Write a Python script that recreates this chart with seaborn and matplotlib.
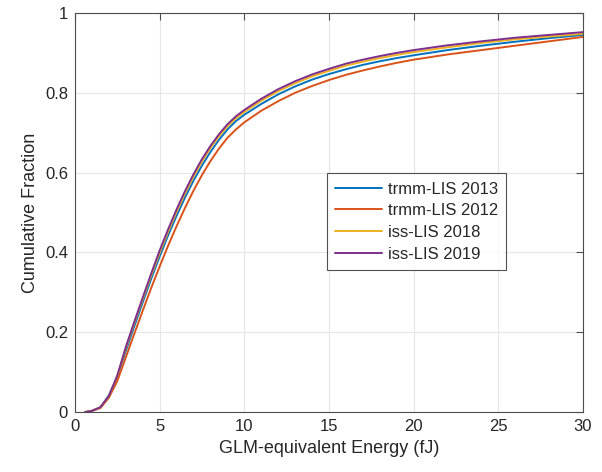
import pandas as pd
import numpy as np
import matplotlib
matplotlib.use("Agg")
import matplotlib.pyplot as plt
import seaborn as sns

# energy grid (fJ) and cumulative fractions
energy = [0.6, 1, 1.5, 2, 2.5, 3, 3.5, 4, 4.5, 5, 5.5, 6, 6.5, 7, 7.5, 8, 8.5, 9, 9.5, 10,
          11, 12, 13, 14, 15, 16, 17, 18, 19, 20, 22, 24, 26, 28, 30]
trmm_2013 = [0, 0.003, 0.012, 0.042, 0.088, 0.153, 0.215, 0.275, 0.334, 0.39, 0.443, 0.492, 0.538,
             0.58, 0.618, 0.652, 0.682, 0.708, 0.729, 0.745, 0.772, 0.796, 0.816, 0.833, 0.847,
             0.859, 0.87, 0.879, 0.887, 0.894, 0.907, 0.918, 0.928, 0.937, 0.945]
trmm_2012 = [0, 0.003, 0.010, 0.036, 0.078, 0.137, 0.196, 0.254, 0.311, 0.365, 0.417, 0.466, 0.512,
             0.555, 0.594, 0.629, 0.66, 0.687, 0.708, 0.726, 0.755, 0.779, 0.8, 0.817, 0.832,
             0.845, 0.856, 0.866, 0.875, 0.883, 0.896, 0.907, 0.918, 0.929, 0.94]
iss_2018 = [0, 0.003, 0.012, 0.04, 0.091, 0.16, 0.223, 0.283, 0.342, 0.399, 0.452, 0.502, 0.548,
            0.59, 0.628, 0.662, 0.691, 0.716, 0.736, 0.752, 0.78, 0.804, 0.824, 0.841, 0.855,
            0.868, 0.878, 0.887, 0.895, 0.902, 0.914, 0.925, 0.934, 0.941, 0.948]
iss_2019 = [0, 0.003, 0.012, 0.04, 0.092, 0.163, 0.226, 0.287, 0.347, 0.405, 0.458, 0.508, 0.554,
            0.596, 0.634, 0.667, 0.696, 0.721, 0.741, 0.757, 0.785, 0.809, 0.829, 0.846, 0.86,
            0.873, 0.883, 0.892, 0.9, 0.907, 0.919, 0.929, 0.938, 0.945, 0.952]

labels = ["trmm-LIS 2013", "trmm-LIS 2012", "iss-LIS 2018", "iss-LIS 2019"]
colors = ["#0072BD", "#D95319", "#EDB120", "#7E2F8E"]

df = pd.concat([
    pd.DataFrame({"energy": energy, "frac": vals, "series": lab})
    for lab, vals in zip(labels, [trmm_2013, trmm_2012, iss_2018, iss_2019])
])

sns.set_style("whitegrid")
plt.rcParams["font.family"] = ["Liberation Sans", "DejaVu Sans"]

fig = plt.figure(figsize=(6.02, 4.72), dpi=100)
ax = fig.add_axes([0.1246, 0.127, 0.8438, 0.8455])

sns.lineplot(data=df, x="energy", y="frac", hue="series", hue_order=labels,
             palette=colors, linewidth=1.4, ax=ax)

ax.set_xlim(0, 30)
ax.set_ylim(0, 1)
ax.set_xticks([0, 5, 10, 15, 20, 25, 30])
ax.set_yticks([0, 0.2, 0.4, 0.6, 0.8, 1])
ax.set_yticklabels(["0", "0.2", "0.4", "0.6", "0.8", "1"])
ax.grid(True, color="#e6e6e6", linewidth=0.8)
for s in ax.spines.values():
    s.set_visible(True)
    s.set_color("#4d4d4d")
    s.set_linewidth(0.8)
ax.tick_params(direction="in", length=5, width=0.8, color="#4d4d4d",
               top=True, right=True, labelsize=12, labelcolor="#262626", pad=5)
ax.set_xlabel("GLM-equivalent Energy (fJ)", fontsize=13, color="#262626")
ax.set_ylabel("Cumulative Fraction", fontsize=13, color="#262626")

leg = ax.legend(loc="lower left", bbox_to_anchor=(0.496, 0.356), fontsize=12,
                frameon=True, fancybox=False, handlelength=2.8, handletextpad=0.35,
                borderpad=0.5, labelspacing=0.4, borderaxespad=0)
leg.get_frame().set_edgecolor("#262626")
leg.get_frame().set_linewidth(0.8)

fig.savefig("out.png", dpi=100)
